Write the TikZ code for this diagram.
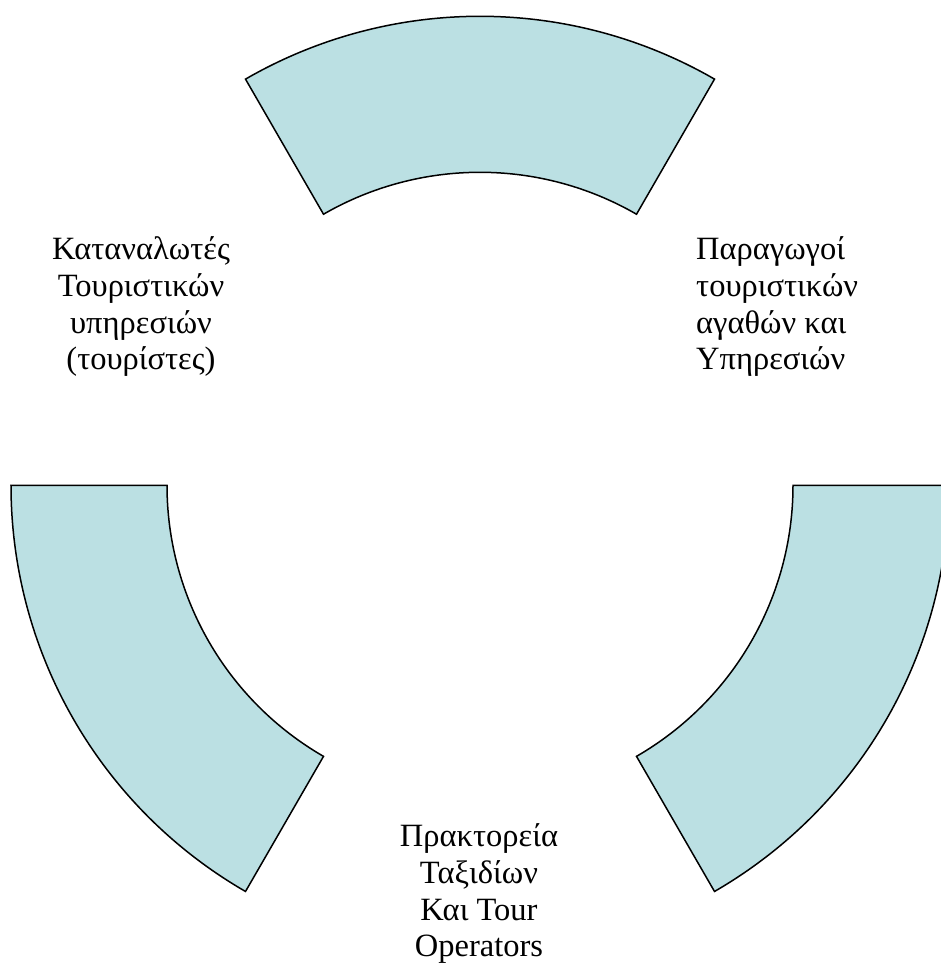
\documentclass[tikz,border=0pt]{standalone}
\usepackage{fontspec}
\setmainfont{Liberation Serif}
\definecolor{sectorfill}{RGB}{187,224,227}
\begin{document}
\begin{tikzpicture}[x=1pt,y=1pt,
  sector/.style={draw=black, line width=1.5pt, fill=sectorfill, line join=miter},
  lbl/.style={inner sep=0pt, font=\fontsize{32.5}{36.7}\selectfont}]
\useasboundingbox (0,0) rectangle (940,963);
\coordinate (c) at (480,477.7);
% top sector
\draw[sector] ([shift={(60:469)}]c) arc[start angle=60,end angle=120,radius=469]
  -- ([shift={(120:313)}]c) arc[start angle=120,end angle=60,radius=313] -- cycle;
% left sector
\draw[sector] ([shift={(180:469)}]c) arc[start angle=180,end angle=240,radius=469]
  -- ([shift={(240:313)}]c) arc[start angle=240,end angle=180,radius=313] -- cycle;
% right sector
\draw[sector] ([shift={(300:469)}]c) arc[start angle=300,end angle=360,radius=469]
  -- ([shift={(360:313)}]c) arc[start angle=360,end angle=300,radius=313] -- cycle;
% labels (base anchor = baseline of last line)
\node[lbl, align=center, anchor=base] (cons) at (141,593)
  {Καταναλωτές\\Τουριστικών\\υπηρεσιών\\(τουρίστες)};
\node[lbl, align=left, anchor=base west] (prod) at (696,593)
  {Παραγωγοί\\τουριστικών\\αγαθών και\\Υπηρεσιών};
\node[lbl, align=center, anchor=base] (agen) at (479,6.2)
  {Πρακτορεία\\Ταξιδίων\\Και Tour\\Operators};
\end{tikzpicture}
\end{document}
